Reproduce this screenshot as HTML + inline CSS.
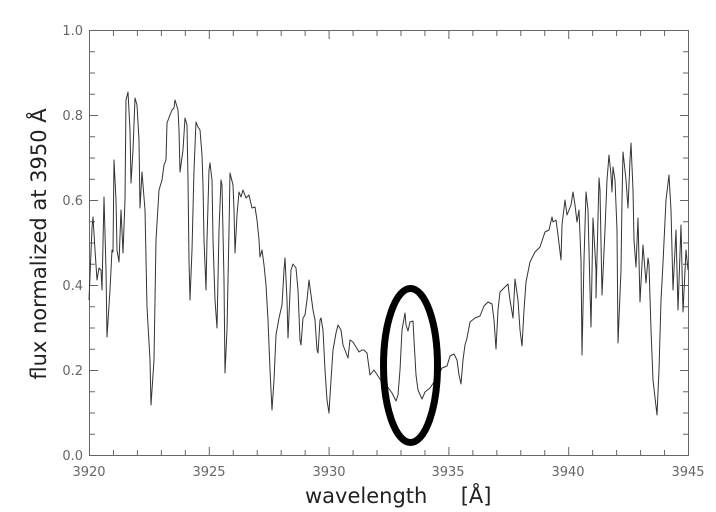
<!DOCTYPE html>
<html><head><meta charset="utf-8"><style>
html,body{margin:0;padding:0;background:#fff;}
svg{display:block;}
text{font-family:"DejaVu Sans","Liberation Sans",sans-serif;}
</style></head><body>
<svg width="716" height="512" viewBox="0 0 716 512" xmlns="http://www.w3.org/2000/svg">
<rect width="716" height="512" fill="#fff"/>
<g stroke="#666" stroke-width="1" fill="none">
<rect x="89.5" y="30.5" width="599" height="425"/>
<path d="M89.5 455v-8M113.46 455v-5M137.42 455v-5M161.38 455v-5M185.34 455v-5M209.3 455v-8M233.26 455v-5M257.22 455v-5M281.18 455v-5M305.14 455v-5M329.1 455v-8M353.06 455v-5M377.02 455v-5M400.98 455v-5M424.94 455v-5M448.9 455v-8M472.86 455v-5M496.82 455v-5M520.78 455v-5M544.74 455v-5M568.7 455v-8M592.66 455v-5M616.62 455v-5M640.58 455v-5M664.54 455v-5M688.5 455v-8
M89.5 31v8M113.46 31v5M137.42 31v5M161.38 31v5M185.34 31v5M209.3 31v8M233.26 31v5M257.22 31v5M281.18 31v5M305.14 31v5M329.1 31v8M353.06 31v5M377.02 31v5M400.98 31v5M424.94 31v5M448.9 31v8M472.86 31v5M496.82 31v5M520.78 31v5M544.74 31v5M568.7 31v8M592.66 31v5M616.62 31v5M640.58 31v5M664.54 31v5M688.5 31v8
M90 455.5h8M90 434.25h5M90 413h5M90 391.75h5M90 370.5h8M90 349.25h5M90 328h5M90 306.75h5M90 285.5h8M90 264.25h5M90 243h5M90 221.75h5M90 200.5h8M90 179.25h5M90 158h5M90 136.75h5M90 115.5h8M90 94.25h5M90 73h5M90 51.75h5M90 30.5h8
M688 455.5h-8M688 434.25h-5M688 413h-5M688 391.75h-5M688 370.5h-8M688 349.25h-5M688 328h-5M688 306.75h-5M688 285.5h-8M688 264.25h-5M688 243h-5M688 221.75h-5M688 200.5h-8M688 179.25h-5M688 158h-5M688 136.75h-5M688 115.5h-8M688 94.25h-5M688 73h-5M688 51.75h-5M688 30.5h-8"/>
</g>
<g fill="#666" font-size="13" text-anchor="end">
<text x="83" y="460">0.0</text>
<text x="83" y="375">0.2</text>
<text x="83" y="290">0.4</text>
<text x="83" y="205">0.6</text>
<text x="83" y="120">0.8</text>
<text x="83" y="35">1.0</text>
</g>
<g fill="#666" font-size="13" text-anchor="middle">
<text x="89" y="476">3920</text>
<text x="209" y="476">3925</text>
<text x="329" y="476">3930</text>
<text x="448" y="476">3935</text>
<text x="568" y="476">3940</text>
<text x="688" y="476">3945</text>
</g>
<text x="305" y="503" font-size="21" fill="#222" xml:space="preserve">wavelength     [Å]</text>
<text transform="translate(46,244) rotate(-90)" font-size="21" fill="#222" text-anchor="middle">flux normalized at 3950 Å</text>
<polyline fill="none" stroke="#333" stroke-width="1" stroke-linejoin="round" points="
89,300 92,228 93,217 95,250 97,280 99,268 101,270 102,290 104,197 106,270 107,337 110,290 112,250 113,252 114,160 116,200 117,250 119,262 121,210 123,253 125,200 126,100 128,92 130,130 131,183 133,150 135,98 137,105 139,140 140,208 142,172 145,210 147,307 150,360 151,405 154,360 156,240 159,190 162,180 164,165 166,160 167,123 170,115 172,110 174,108 175,100 178,110 179,130 180,172 183,150 185,118 187,125 188,180 189,260 190,300 192,250 194,170 196,122 198,127 200,130 202,155 203,185 204,240 206,290 207,240 209,170 210,163 212,180 213,240 215,300 217,328 219,230 221,180 222,185 224,280 225,373 227,330 229,230 230,173 233,185 234,210 235,253 237,215 239,192 241,197 243,190 246,198 249,195 252,208 255,207 257,220 259,240 260,257 262,250 264,265 266,285 268,320 270,370 272,410 274,380 276,335 279,318 282,305 284,270 285,258 287,300 288,338 291,270 293,264 296,268 298,290 300,340 301,345 303,318 305,315 307,300 309,280 311,295 313,310 315,320 317,350 318,353 320,320 321,318 323,330 325,370 327,400 329,413 331,380 333,350 336,333 338,325 341,330 343,345 348,358 350,340 353,342 356,347 359,352 362,350 364,350 367,353 370,375 374,370 378,376 382,382 387,386 392,393 396,401 398,395 400,370 402,330 405,313 406,325 408,331 410,322 413,321 414,340 416,375 418,390 422,399 425,392 430,388 434,382 438,376 442,368 447,366 450,356 454,354 457,360 459,375 461,384 463,360 465,345 467,338 470,322 475,318 480,316 484,306 488,302 492,304 494,320 496,349 498,310 500,292 503,289 508,284 510,300 513,318 515,279 518,300 520,330 522,346 524,310 526,282 530,262 535,252 540,247 545,232 549,230 552,217 553,222 556,220 558,235 561,260 562,225 565,200 567,215 569,210 571,205 573,192 575,205 577,222 579,210 581,260 582,355 584,260 586,192 588,210 590,290 591,327 593,218 596,270 596,298 599,178 600,190 602,295 605,230 607,180 609,155 611,175 612,192 613,167 615,180 617,230 618,343 621,270 622,200 623,152 626,180 628,208 630,160 631,143 633,190 634,240 636,267 638,218 640,302 643,245 646,283 648,258 649,265 651,330 653,380 657,415 659,370 661,300 663,263 666,200 669,175 671,210 673,290 676,230 678,310 681,225 683,312 686,250 688,270"/>
<ellipse cx="410.5" cy="365.5" rx="27" ry="77" fill="none" stroke="#000" stroke-width="7"/>
</svg>
</body></html>
